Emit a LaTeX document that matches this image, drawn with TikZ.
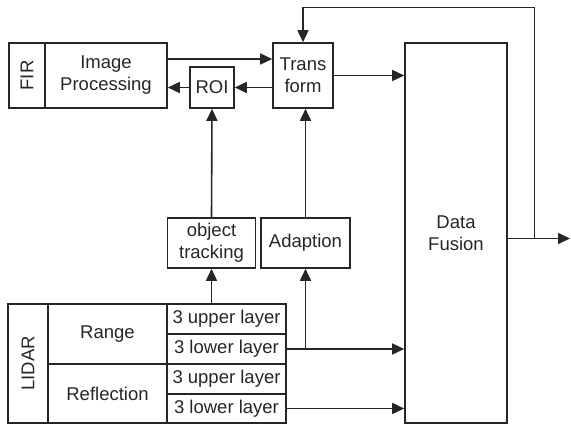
\documentclass[tikz,border=0pt]{standalone}
\usepackage{fontspec}
\setmainfont{Liberation Sans}
\usetikzlibrary{arrows.meta}
\begin{document}
\begin{tikzpicture}[x=1pt,y=-1pt,
  box/.style={draw=black!85, line width=1.6pt, inner sep=0pt, align=center,
    font=\fontsize{18.5}{22}\selectfont, text=black!85},
  arr/.style={draw=black!85, line width=1.6pt, -{Triangle[length=12pt,width=11pt]}},
  ln/.style={draw=black!85, line width=1.6pt}]
\useasboundingbox (0,0) rectangle (571,425);
% top row
\node[box, minimum width=36pt, minimum height=65pt] (fir) at (27,75.5) {\rotatebox{90}{FIR}};
\node[box, minimum width=122pt, minimum height=65pt] (img) at (106,75.5) {Image\\Processing};
\node[box, minimum width=44pt, minimum height=41pt] (roi) at (212,87.5) {ROI};
\node[box, minimum width=60pt, minimum height=65pt] (tr) at (303,75.5) {Trans\\form};
\node[box, minimum width=102pt, minimum height=380pt] (df) at (456,233) {Data\\Fusion};
% middle
\node[box, minimum width=88pt, minimum height=50pt] (ot) at (211.5,243) {object\\tracking};
\node[box, minimum width=89pt, minimum height=50pt] (ad) at (305.5,243) {Adaption};
% lidar table
\node[box, minimum width=40pt, minimum height=119pt] (lidar) at (28,363.5) {\rotatebox{90}{LIDAR}};
\node[box, minimum width=119pt, minimum height=60pt] (range) at (107.5,334) {Range};
\node[box, minimum width=119pt, minimum height=59pt] (refl) at (107.5,393.5) {Reflection};
\node[box, minimum width=119pt, minimum height=30pt] (l1) at (226.5,319) {3 upper layer};
\node[box, minimum width=119pt, minimum height=30pt] (l2) at (226.5,349) {3 lower layer};
\node[box, minimum width=119pt, minimum height=30pt] (l3) at (226.5,379) {3 upper layer};
\node[box, minimum width=119pt, minimum height=29pt] (l4) at (226.5,408.5) {3 lower layer};
% coordinates
\coordinate (out) at (570,238.5);
\coordinate (jr) at (534.5,238.5);
\coordinate (tr1) at (534.5,7.5);
\coordinate (tr2) at (303,7.5);
% connectors
\draw[arr] ([yshift=16.5pt]img.east) -- ([yshift=16.5pt]tr.west);
\draw[arr] (tr.west |- roi.east) -- (roi.east);
\draw[arr] (roi.west) -- (img.east |- roi.west);
\draw[arr] (tr.east) -- (tr.east -| df.west);
\draw[arr] (df.east |- out) -- (out);
\draw[ln] (jr) -- (tr1) -- (tr2);
\draw[arr] (tr2) -- (tr.north);
\draw[arr] (ot.north) -- (roi.south);
\draw[arr] (ad.north) -- (ad.north |- tr.south);
\draw[arr] (ot.south |- l1.north) -- (ot.south);
\draw[arr] (l2.east) -- (l2.east -| df.west);
\draw[arr] (ad.south |- l2.east) -- (ad.south);
\draw[arr] (l4.east) -- (l4.east -| df.west);
\end{tikzpicture}
\end{document}
